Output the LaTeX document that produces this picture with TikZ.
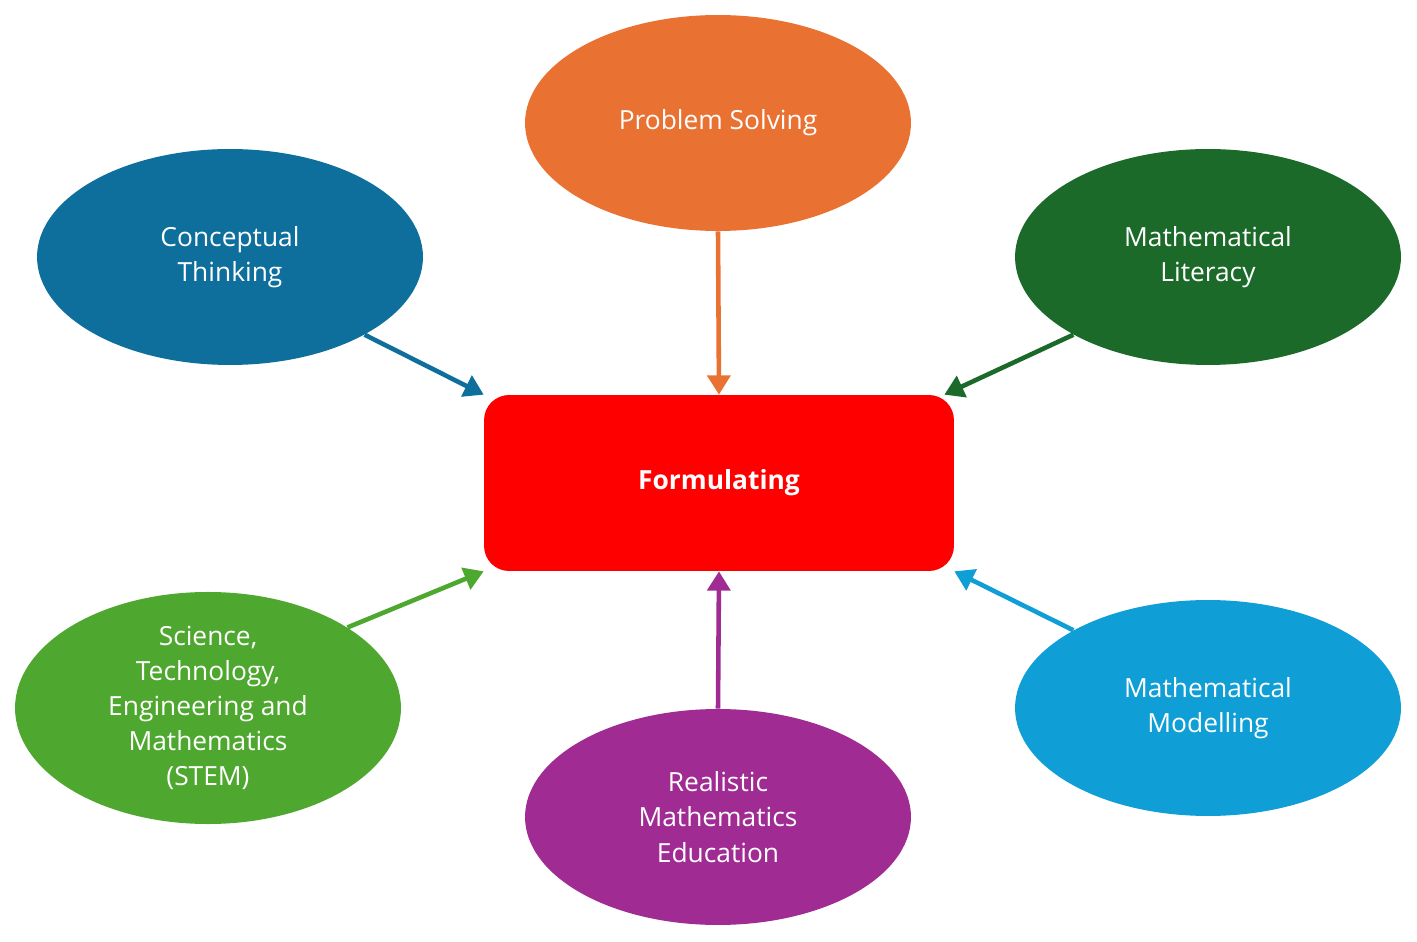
\documentclass[tikz,border=0pt]{standalone}
\usepackage{fontspec}
\setmainfont{Open Sans}
\usetikzlibrary{arrows.meta,shapes.geometric}
\definecolor{cOrange}{HTML}{E97132}
\definecolor{cBlue}{HTML}{0E6F9C}
\definecolor{cDkGreen}{HTML}{1B6A29}
\definecolor{cGreen}{HTML}{4EA72E}
\definecolor{cPurple}{HTML}{A02B93}
\definecolor{cLtBlue}{HTML}{0F9ED5}
\tikzset{
  topic/.style={ellipse, fill=#1, text=white, minimum width=7.72cm,
    minimum height=4.32cm, inner sep=0pt, align=center,
    font=\fontsize{15}{20}\selectfont},
  link/.style={draw=#1, line width=2.6pt,
    -{Triangle[length=11pt,width=13pt]}}
}
\begin{document}
\begin{tikzpicture}[x=0.02cm,y=-0.02cm]
  \useasboundingbox (0,0) rectangle (1417,942);
  \node[rectangle, rounded corners=0.5cm, fill=red, text=white,
    minimum width=9.4cm, minimum height=3.52cm,
    font=\fontsize{15}{20}\selectfont\bfseries] (f) at (719,483) {Formulating};

  \node[topic=cOrange] (ps) at (718,123) {Problem Solving};
  \node[topic=cBlue] (ct) at (230,257) {Conceptual\\Thinking};
  \node[topic=cDkGreen] (ml) at (1208,257) {Mathematical\\Literacy};
  \node[topic=cGreen] (st) at (208,708) {Science,\\Technology,\\Engineering and\\Mathematics\\(STEM)};
  \node[topic=cPurple] (rm) at (718,817) {Realistic\\Mathematics\\Education};
  \node[topic=cLtBlue] (mm) at (1208,708) {Mathematical\\Modelling};

  % arrows into the centre box
  \draw[link=cOrange] (ps.south) -- (f.north);
  \draw[link=cBlue] (ct.-30) -- (f.north west);
  \draw[link=cDkGreen] (ml.210) -- ([xshift=-0.2cm]f.north east);
  \draw[link=cGreen] (st.30) -- (f.south west);
  \draw[link=cPurple] (rm.north) -- (f.south);
  \draw[link=cLtBlue] (mm.150) -- (f.south east);
\end{tikzpicture}
\end{document}
